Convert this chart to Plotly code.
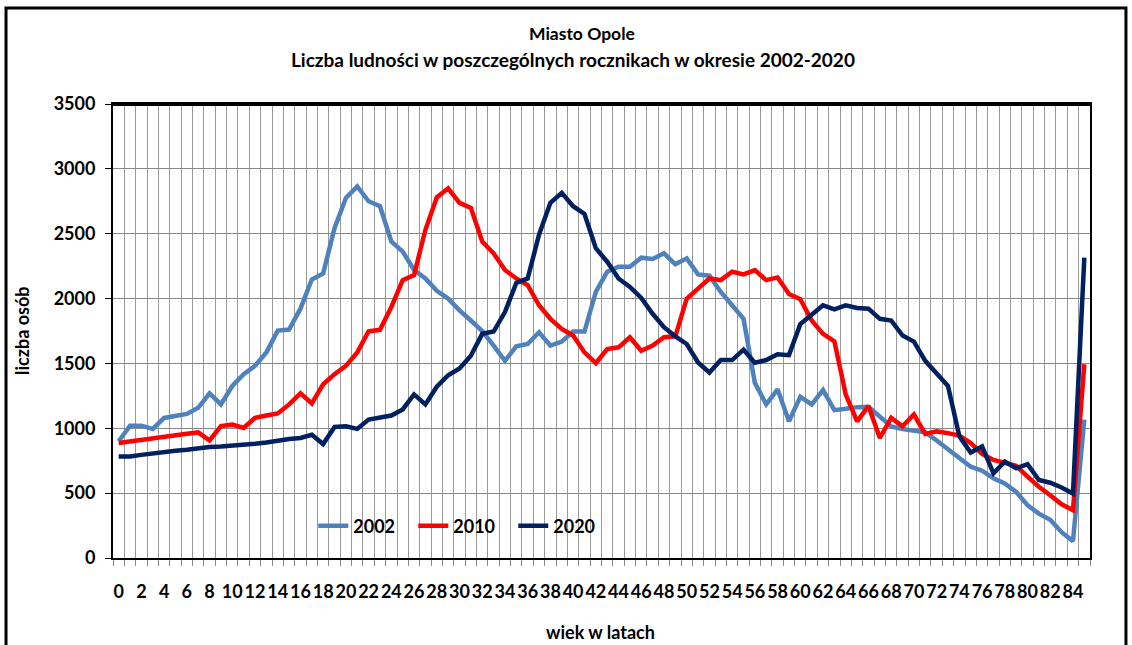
import plotly.graph_objects as go

ages = list(range(86))
tick_ages = list(range(0, 85, 2))
tick_text = [str(a) for a in tick_ages]

pop_2002 = [900, 1020, 1020, 995, 1080, 1098, 1111, 1158, 1269, 1184,
            1326, 1417, 1481, 1585, 1753, 1761, 1922, 2147, 2194, 2543,
            2776, 2865, 2750, 2712, 2440, 2362, 2220, 2155, 2060, 2000,
            1909, 1831, 1750, 1637, 1520, 1632, 1650, 1740, 1637, 1668,
            1746, 1746, 2051, 2207, 2246, 2246, 2315, 2305, 2349, 2264,
            2310, 2186, 2176, 2051, 1948, 1844, 1350, 1184, 1300, 1054,
            1243, 1184, 1295, 1140, 1150, 1163, 1165, 1093, 1015, 995,
            984, 969, 906, 839, 777, 704, 673, 614, 575, 510,
            407, 342, 295, 199, 130, 1067]

pop_2010 = [886, 899, 912, 925, 938, 950, 958, 968, 906, 1017,
            1028, 1002, 1080, 1098, 1114, 1184, 1269, 1191, 1339, 1417,
            1481, 1585, 1748, 1759, 1935, 2142, 2181, 2530, 2780, 2850,
            2738, 2699, 2440, 2349, 2220, 2155, 2103, 1948, 1844, 1766,
            1715, 1585, 1502, 1611, 1624, 1702, 1598, 1637, 1702, 1709,
            1999, 2077, 2155, 2142, 2207, 2186, 2220, 2142, 2163, 2035,
            1995, 1831, 1728, 1670, 1260, 1054, 1171, 925, 1080, 1015,
            1106, 956, 976, 963, 943, 886, 803, 756, 730, 710,
            627, 549, 484, 414, 368, 1494]

pop_2020 = [782, 782, 795, 808, 816, 826, 834, 847, 855, 860,
            865, 873, 881, 891, 906, 917, 925, 950, 878, 1010,
            1015, 995, 1067, 1085, 1098, 1145, 1261, 1184, 1320, 1409,
            1461, 1559, 1728, 1746, 1896, 2121, 2155, 2492, 2738, 2815,
            2712, 2652, 2388, 2284, 2155, 2090, 2005, 1883, 1779, 1709,
            1650, 1507, 1430, 1526, 1526, 1606, 1505, 1526, 1570, 1564,
            1803, 1875, 1948, 1917, 1948, 1927, 1922, 1844, 1831, 1715,
            1668, 1520, 1425, 1326, 938, 813, 860, 653, 743, 692,
            723, 601, 580, 544, 497, 2315]

series = [("2002", pop_2002, "#4F81BD"),
          ("2010", pop_2010, "#FF0000"),
          ("2020", pop_2020, "#002060")]

FONT = "Lato"

fig = go.Figure()
for name, vals, color in series:
    fig.add_trace(go.Scatter(x=ages, y=vals, mode="lines", name=name,
                             line=dict(color=color, width=4.5)))

boundaries = [a - 0.5 for a in ages] + [ages[-1] + 0.5]

fig.update_layout(
    width=1132, height=645,
    margin=dict(l=113, r=42, t=104, b=87),
    paper_bgcolor="white", plot_bgcolor="white",
    font=dict(family=FONT, color="black"),
    showlegend=True,
    legend=dict(orientation="h", x=0.205, y=0.0705, xanchor="left", yanchor="middle",
                font=dict(family=FONT, size=18, weight="bold", color="black"),
                entrywidth=55, entrywidthmode="pixels",
                bgcolor="rgba(0,0,0,0)"),
    xaxis=dict(range=[-0.5, 85.5], tickmode="array", tickvals=tick_ages, ticktext=tick_text,
               tickangle=0, ticks="", showgrid=False, zeroline=False,
               showline=True, linecolor="black", linewidth=2, mirror=True,
               tickfont=dict(family=FONT, size=18, weight="bold", color="black"),
               ticklabelstandoff=16,
               minor=dict(tickmode="array", tickvals=boundaries, showgrid=True,
                          gridcolor="#9a9a9a", gridwidth=1, ticks="outside",
                          ticklen=6, tickcolor="#888888")),
    yaxis=dict(range=[0, 3500], tick0=0, dtick=500, showgrid=True,
               gridcolor="#878787", gridwidth=1, zeroline=False,
               ticks="outside", ticklen=6, tickcolor="black",
               showline=True, linecolor="black", linewidth=2, mirror=True,
               tickfont=dict(family=FONT, size=18, weight="bold", color="black"),
               ticklabelstandoff=6),
)

fig.add_annotation(text="Miasto Opole", x=0.48, y=1.156, xref="paper", yref="paper",
                   xanchor="center", yanchor="middle", showarrow=False,
                   font=dict(family=FONT, size=17.5, weight="bold", color="black"))
fig.add_annotation(text="Liczba ludności w poszczególnych rocznikach w okresie 2002-2020",
                   x=0.4708, y=1.097, xref="paper", yref="paper",
                   xanchor="center", yanchor="middle", showarrow=False,
                   font=dict(family=FONT, size=19, weight="bold", color="black"))
fig.add_annotation(text="liczba osób", x=-0.0931, y=0.5, xref="paper", yref="paper",
                   xanchor="center", yanchor="middle", showarrow=False, textangle=-90,
                   font=dict(family=FONT, size=18, weight="bold", color="black"))
fig.add_annotation(text="wiek w latach", x=0.4985, y=-0.163, xref="paper", yref="paper",
                   xanchor="center", yanchor="middle", showarrow=False,
                   font=dict(family=FONT, size=18, weight="bold", color="black"))

# outer chart frame
fig.add_shape(type="rect", xref="paper", yref="paper", x0=-0.1095, x1=1.0368,
              y0=-0.25, y1=1.2115, line=dict(color="black", width=3))
# thicker top border of plot area
fig.add_shape(type="line", xref="paper", yref="paper", x0=0, x1=1, y0=1, y1=1,
              line=dict(color="black", width=4))

fig.write_html("out.html",
               config={"displayModeBar": False},
               post_script="document.body.style.margin='0';document.body.style.padding='0';"
                           "document.body.style.overflow='hidden';")
